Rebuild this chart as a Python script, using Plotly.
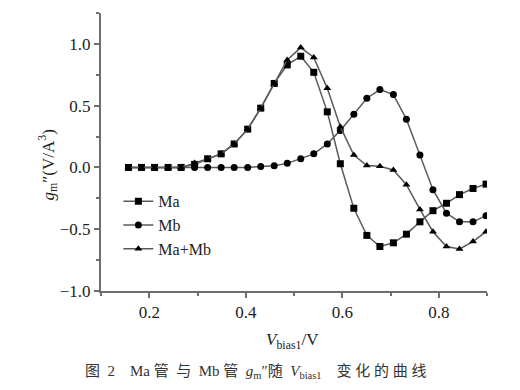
import plotly.graph_objects as go

# x positions of samples (V_bias1, V)
v_bias = [0.157, 0.184, 0.211, 0.239, 0.266, 0.294, 0.321, 0.349, 0.376, 0.404,
          0.431, 0.459, 0.486, 0.514, 0.541, 0.569, 0.596, 0.624, 0.651, 0.678,
          0.706, 0.733, 0.761, 0.788, 0.816, 0.843, 0.871, 0.898]

ma = [0.0, 0.0, 0.0, 0.0, 0.0, 0.025, 0.07, 0.11, 0.19, 0.31,
      0.48, 0.68, 0.83, 0.90, 0.77, 0.45, 0.03, -0.33, -0.55, -0.64,
      -0.61, -0.54, -0.44, -0.35, -0.29, -0.22, -0.17, -0.135]

mb = [0.0, 0.0, 0.0, 0.0, 0.0, 0.0, 0.0, 0.0, 0.0, 0.0,
      0.008, 0.014, 0.033, 0.07, 0.11, 0.19, 0.30, 0.43, 0.56, 0.63,
      0.59, 0.39, 0.10, -0.18, -0.37, -0.44, -0.44, -0.39]

ma_mb = [0.0, 0.0, 0.0, 0.0, 0.0, 0.035, 0.07, 0.11, 0.19, 0.31,
         0.48, 0.68, 0.87, 0.97, 0.89, 0.64, 0.33, 0.10, 0.015, 0.01,
         -0.02, -0.14, -0.34, -0.52, -0.64, -0.66, -0.60, -0.52]

series_names = ["Ma", "Mb", "Ma+Mb"]
series_symbols = ["square", "circle", "triangle-up"]
series_values = [ma, mb, ma_mb]

serif = "Liberation Serif, Times New Roman, serif"
line_col = "#5a5a5a"

fig = go.Figure()
for name, sym, vals in zip(series_names, series_symbols, series_values):
    fig.add_trace(go.Scatter(
        x=v_bias, y=vals, name=name, mode="lines+markers",
        line=dict(color=line_col, width=1.5),
        marker=dict(symbol=sym, size=7, color="black"),
    ))

axis_common = dict(
    showline=True, linecolor="#6e6e6e", linewidth=2,
    ticks="outside", ticklen=5, tickwidth=1.5, tickcolor="#6e6e6e",
    showgrid=False, zeroline=False, mirror=False,
    tickfont=dict(family=serif, size=17, color="#222"),
)

fig.update_xaxes(range=[0.1, 0.9], tick0=0.2, dtick=0.2, tickformat=".1f",
                 minor=dict(dtick=0.1, tick0=0.1, ticks="outside", ticklen=3,
                            tickcolor="#6e6e6e", tickwidth=1.5),
                 **axis_common)
fig.update_yaxes(range=[-1.0, 1.25], tick0=0, dtick=0.5, tickformat=".1f",
                 minor=dict(dtick=0.25, tick0=0, ticks="outside", ticklen=3,
                            tickcolor="#6e6e6e", tickwidth=1.5),
                 **axis_common)

fig.update_layout(
    width=520, height=390,
    margin=dict(l=101, r=33, t=13, b=99),
    plot_bgcolor="white", paper_bgcolor="white",
    showlegend=True,
    legend=dict(x=0.045, y=0.384, xanchor="left", yanchor="top",
                bgcolor="rgba(0,0,0,0)",
                font=dict(family=serif, size=16, color="#222"),
                tracegroupgap=0, itemwidth=30),
)

fig.add_annotation(
    text="<i>g</i><sub>m</sub>″(V/A<sup>3</sup>)",
    xref="paper", yref="paper", x=-0.175, y=0.455,
    showarrow=False, textangle=-90,
    font=dict(family=serif, size=17, color="#222"),
)
fig.add_annotation(
    text="<i>V</i><sub>bias1</sub>/V",
    xref="paper", yref="paper", x=0.495, y=-0.226,
    showarrow=False,
    font=dict(family=serif, size=17, color="#222"),
)

NB = "\u00a0"
caption = ("图" + NB * 2 + "2" + NB * 4 + "Ma" + NB + "管" + NB * 2 + "与" + NB * 2 + "Mb" + NB
           + "管" + NB * 2 + "<i>g</i><sub>m</sub>″随" + NB * 2
           + "<i>V</i><sub>bias1</sub>" + NB * 4
           + "变" + NB + "化" + NB + "的" + NB + "曲" + NB + "线")
fig.add_annotation(
    text=caption,
    xref="paper", yref="paper", x=0.402, y=-0.331,
    showarrow=False,
    font=dict(family="Liberation Serif, Noto Sans CJK SC, serif", size=15, color="#333"),
)

fig.write_html("out.html")
